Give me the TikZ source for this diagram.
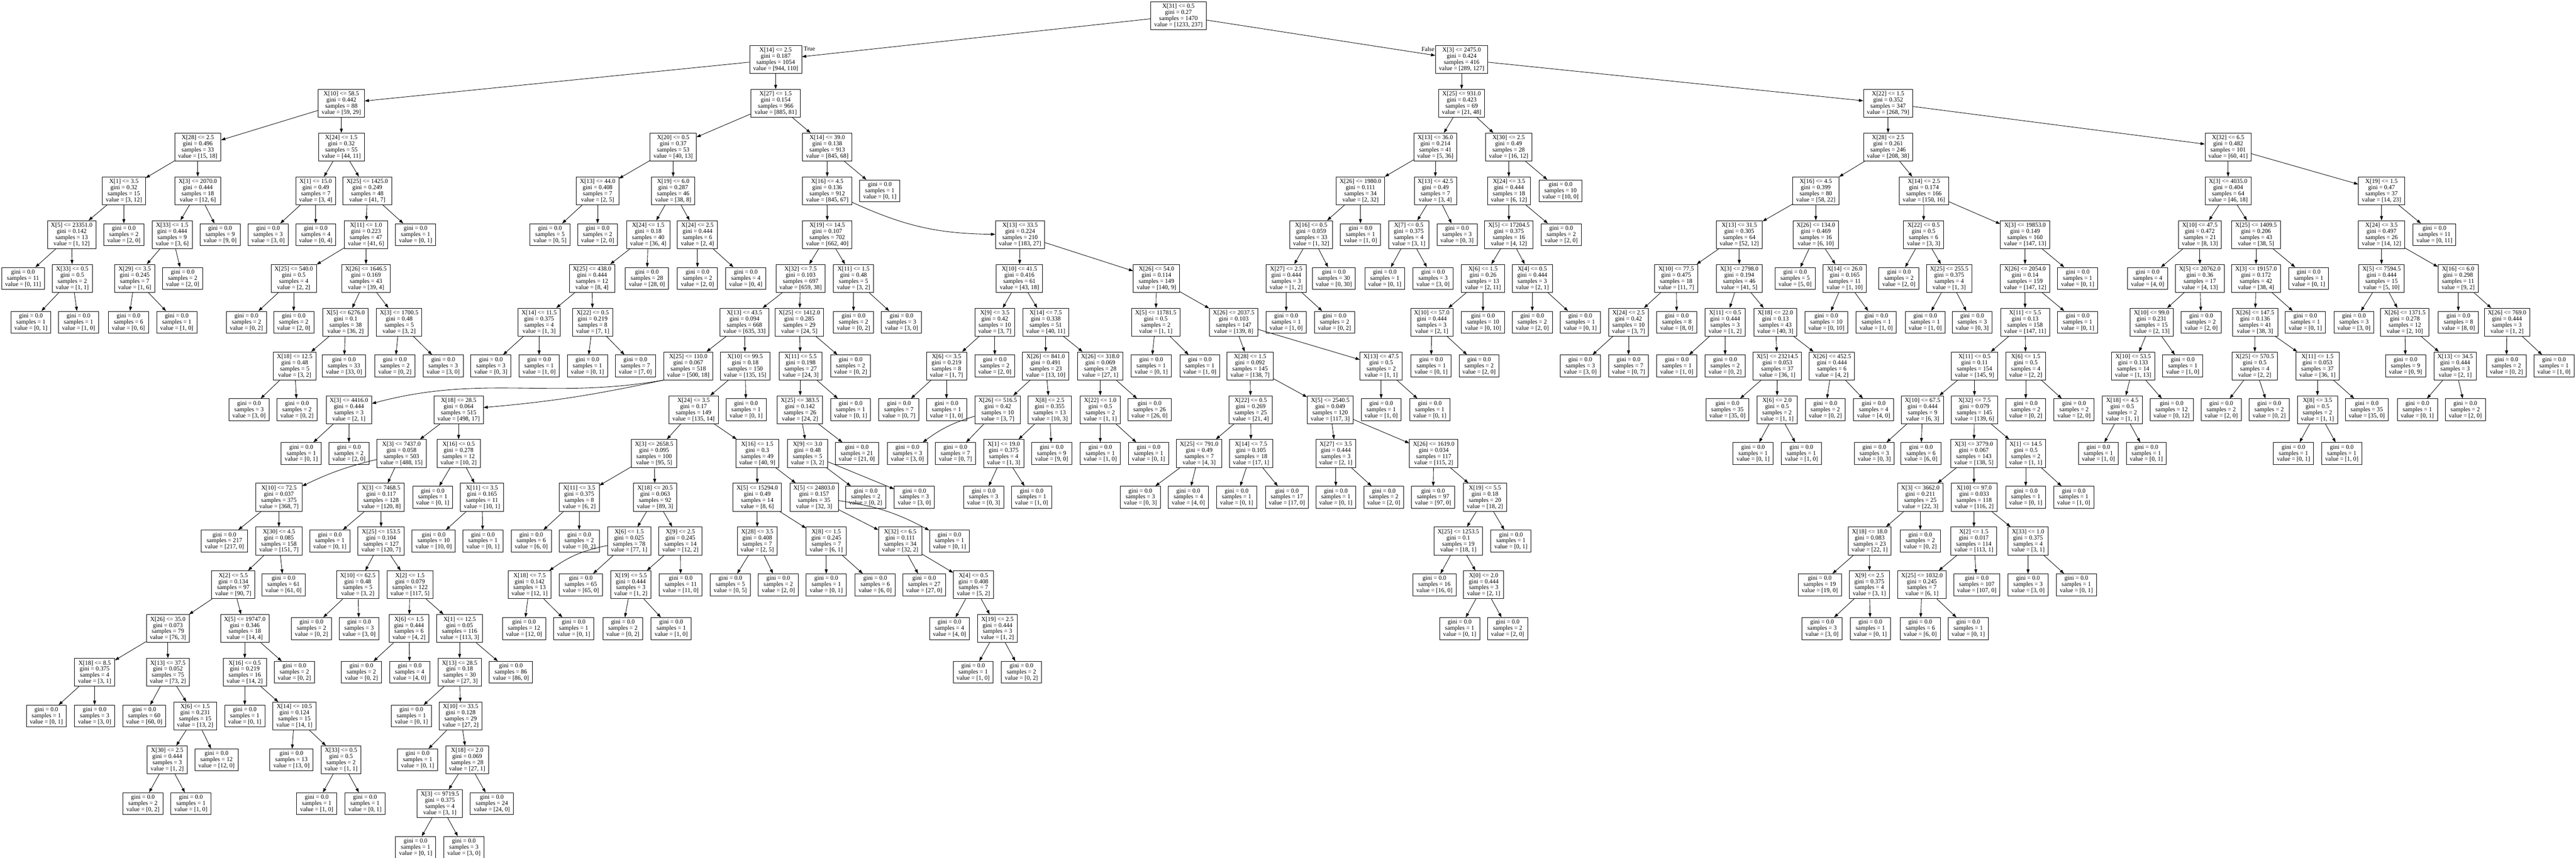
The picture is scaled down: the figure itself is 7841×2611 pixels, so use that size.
\documentclass[tikz,border=0pt]{standalone}
\usepackage{fontspec}
\setmainfont{Liberation Serif}
\usepackage{tikz}
\usetikzlibrary{arrows.meta,positioning}
\newcommand{\splittext}[4]{#1\\gini = #2\\samples = #3\\value = [#4]}
\newcommand{\leaftext}[2]{gini = 0.0\\samples = #1\\value = [#2]}
\begin{document}
\begin{tikzpicture}[on grid,node distance=133.2pt,line width=1.33pt,
  >={Triangle[length=13pt,width=9pt]},
  font=\fontsize{18.67}{18.67}\selectfont,
  split/.style={draw,rectangle,align=center,inner xsep=10.6pt,inner ysep=0pt,minimum height=85pt},
  leaf/.style={draw,rectangle,align=center,inner xsep=10.6pt,inner ysep=0pt,minimum height=66.5pt},
  lbl/.style={inner sep=1pt}]
   \path[use as bounding box,fill=white] (0pt,0pt) rectangle (7841pt,-2611pt);
   \node[split] (n0) at (3587pt,-48pt) {\splittext{X[31] <= 0.5}{0.27}{1470}{1233, 237}};
   \node[split] (n1) [below=of n0, xshift=-1226pt] {\splittext{X[14] <= 2.5}{0.187}{1054}{944, 110}};
   \node[split] (n2) [below=of n0, xshift=862pt] {\splittext{X[3] <= 2475.0}{0.424}{416}{289, 127}};
   \node[lbl,anchor=north west] (tlab) at (n1.north east) [xshift=4pt,yshift=-3pt] {True};
   \node[lbl,anchor=north east] (flab) at (n2.north west) [xshift=-1pt,yshift=-3pt] {False};
   \node[split] (a1) [below=of n1, xshift=-1322pt] {\splittext{X[10] <= 58.5}{0.442}{88}{59, 29}};
   \node[split] (a2) [below=of a1, xshift=-437pt] {\splittext{X[28] <= 2.5}{0.496}{33}{15, 18}};
   \node[split] (a3) [below=of a2, xshift=-225pt] {\splittext{X[1] <= 3.5}{0.32}{15}{3, 12}};
   \node[split] (a4) [below=of a3, xshift=-159pt] {\splittext{X[5] <= 23351.0}{0.142}{13}{1, 12}};
   \node[leaf] (l1) [below=of a4, xshift=-148pt] {\leaftext{11}{0, 11}};
   \node[split] (a5) [below=of a4, xshift=2pt] {\splittext{X[33] <= 0.5}{0.5}{2}{1, 1}};
   \node[leaf] (l2) [below=of a5, xshift=-126pt] {\leaftext{1}{0, 1}};
   \node[leaf] (l3) [below=of a5, xshift=19pt] {\leaftext{1}{1, 0}};
   \node[leaf] (l4) [below=of a3] {\leaftext{2}{2, 0}};
   \node[split] (a6) [below=of a2] {\splittext{X[3] <= 2070.0}{0.444}{18}{12, 6}};
   \node[split] (a7) [below=of a6, xshift=-78pt] {\splittext{X[33] <= 1.5}{0.444}{9}{3, 6}};
   \node[split] (a8) [below=of a7, xshift=-114pt] {\splittext{X[29] <= 3.5}{0.245}{7}{1, 6}};
   \node[leaf] (l5) [below=of a8, xshift=-19pt] {\leaftext{6}{0, 6}};
   \node[leaf] (l6) [below=of a8, xshift=128pt] {\leaftext{1}{1, 0}};
   \node[leaf] (l7) [below=of a7, xshift=32pt] {\leaftext{2}{2, 0}};
   \node[leaf] (l8) [below=of a6, xshift=68pt] {\leaftext{9}{9, 0}};
   \node[split] (a9) [below=of a1] {\splittext{X[24] <= 1.5}{0.32}{55}{44, 11}};
   \node[split] (a10) [below=of a9, xshift=-78pt] {\splittext{X[1] <= 15.0}{0.49}{7}{3, 4}};
   \node[leaf] (l9) [below=of a10, xshift=-145pt] {\leaftext{3}{3, 0}};
   \node[leaf] (l10) [below=of a10] {\leaftext{4}{0, 4}};
   \node[split] (a11) [below=of a9, xshift=79pt] {\splittext{X[25] <= 1425.0}{0.249}{48}{41, 7}};
   \node[split] (a12) [below=of a11, xshift=-4pt] {\splittext{X[11] <= 1.0}{0.223}{47}{41, 6}};
   \node[split] (a13) [below=of a12, xshift=-220pt] {\splittext{X[25] <= 540.0}{0.5}{4}{2, 2}};
   \node[leaf] (l11) [below=of a13, xshift=-144pt] {\leaftext{2}{0, 2}};
   \node[leaf] (l12) [below=of a13] {\leaftext{2}{2, 0}};
   \node[split] (a14) [below=of a12] {\splittext{X[26] <= 1646.5}{0.169}{43}{39, 4}};
   \node[split] (a15) [below=of a14, xshift=-62pt] {\splittext{X[5] <= 6276.0}{0.1}{38}{36, 2}};
   \node[split] (a16) [below=of a15, xshift=-155pt] {\splittext{X[18] <= 12.5}{0.48}{5}{3, 2}};
   \node[leaf] (l13) [below=of a16, xshift=-139pt] {\leaftext{3}{3, 0}};
   \node[leaf] (l14) [below=of a16, xshift=7pt] {\leaftext{2}{0, 2}};
   \node[leaf] (l15) [below=of a15, xshift=-5pt] {\leaftext{33}{33, 0}};
   \node[split] (a17) [below=of a14, xshift=101pt] {\splittext{X[3] <= 1700.5}{0.48}{5}{3, 2}};
   \node[leaf] (l16) [below=of a17, xshift=-13pt] {\leaftext{2}{0, 2}};
   \node[leaf] (l17) [below=of a17, xshift=134pt] {\leaftext{3}{3, 0}};
   \node[leaf] (l18) [below=of a11, xshift=147pt] {\leaftext{1}{0, 1}};
   \node[split] (b1) [below=of n1] {\splittext{X[27] <= 1.5}{0.154}{966}{885, 81}};
   \node[split] (b2) [below=of b1, xshift=-312pt] {\splittext{X[20] <= 0.5}{0.37}{53}{40, 13}};
   \node[split] (b3) [below=of b2, xshift=-230pt] {\splittext{X[13] <= 44.0}{0.408}{7}{2, 5}};
   \node[leaf] (l19) [below=of b3, xshift=-145pt] {\leaftext{5}{0, 5}};
   \node[leaf] (l20) [below=of b3] {\leaftext{2}{2, 0}};
   \node[split] (b4) [below=of b2] {\splittext{X[19] <= 6.0}{0.287}{46}{38, 8}};
   \node[split] (b5) [below=of b4, xshift=-76pt] {\splittext{X[24] <= 1.5}{0.18}{40}{36, 4}};
   \node[split] (b6) [below=of b5, xshift=-171pt] {\splittext{X[25] <= 438.0}{0.444}{12}{8, 4}};
   \node[split] (b7) [below=of b6, xshift=-161pt] {\splittext{X[14] <= 11.5}{0.375}{4}{1, 3}};
   \node[leaf] (l21) [below=of b7, xshift=-147pt] {\leaftext{3}{0, 3}};
   \node[leaf] (l22) [below=of b7] {\leaftext{1}{1, 0}};
   \node[split] (b8) [below=of b6, xshift=2pt] {\splittext{X[22] <= 0.5}{0.219}{8}{7, 1}};
   \node[leaf] (l23) [below=of b8, xshift=-16pt] {\leaftext{1}{0, 1}};
   \node[leaf] (l24) [below=of b8, xshift=130pt] {\leaftext{7}{7, 0}};
   \node[leaf] (l25) [below=of b5, xshift=-4pt] {\leaftext{28}{28, 0}};
   \node[split] (b9) [below=of b4, xshift=74pt] {\splittext{X[24] <= 2.5}{0.444}{6}{2, 4}};
   \node[leaf] (l26) [below=of b9] {\leaftext{2}{2, 0}};
   \node[leaf] (l27) [below=of b9, xshift=147pt] {\leaftext{4}{0, 4}};
   \node[split] (c1) [below=of b1, xshift=157pt] {\splittext{X[14] <= 39.0}{0.138}{913}{845, 68}};
   \node[split] (c2) [below=of c1] {\splittext{X[16] <= 4.5}{0.136}{912}{845, 67}};
   \node[split] (c3) [below=of c2] {\splittext{X[19] <= 14.5}{0.107}{702}{662, 40}};
   \node[split] (c4) [below=of c3, xshift=-81pt] {\splittext{X[32] <= 7.5}{0.103}{697}{659, 38}};
   \node[split] (c5) [below=of c4, xshift=-171pt] {\splittext{X[13] <= 43.5}{0.094}{668}{635, 33}};
   \node[split] (c6) [below=of c5, xshift=-171pt] {\splittext{X[25] <= 110.0}{0.067}{518}{500, 18}};
   \node[split] (c7) [below=of c6, xshift=-1033pt] {\splittext{X[3] <= 4416.0}{0.444}{3}{2, 1}};
   \node[leaf] (l28) [below=of c7, xshift=-145pt] {\leaftext{1}{0, 1}};
   \node[leaf] (l29) [below=of c7] {\leaftext{2}{2, 0}};
   \node[split] (c8) [below=of c6, xshift=-699pt] {\splittext{X[18] <= 28.5}{0.064}{515}{498, 17}};
   \node[split] (c9) [below=of c8, xshift=-174pt] {\splittext{X[3] <= 7437.0}{0.058}{503}{488, 15}};
   \node[split] (c10) [below=of c9, xshift=-373pt] {\splittext{X[10] <= 72.5}{0.037}{375}{368, 7}};
   \node[leaf] (l30) [below=of c10, xshift=-166pt] {\leaftext{217}{217, 0}};
   \node[split] (c11) [below=of c10] {\splittext{X[30] <= 4.5}{0.085}{158}{151, 7}};
   \node[split] (c12) [below=of c11, xshift=-139pt] {\splittext{X[2] <= 5.5}{0.134}{97}{90, 7}};
   \node[split] (c13) [below=of c12, xshift=-199pt] {\splittext{X[26] <= 35.0}{0.073}{79}{76, 3}};
   \node[split] (c14) [below=of c13, xshift=-223pt] {\splittext{X[18] <= 8.5}{0.375}{4}{3, 1}};
   \node[leaf] (l31) [below=of c14, xshift=-147pt] {\leaftext{1}{0, 1}};
   \node[leaf] (l32) [below=of c14] {\leaftext{3}{3, 0}};
   \node[split] (c15) [below=of c13] {\splittext{X[13] <= 37.5}{0.052}{75}{73, 2}};
   \node[leaf] (l33) [below=of c15, xshift=-72pt] {\leaftext{60}{60, 0}};
   \node[split] (c16) [below=of c15, xshift=83pt] {\splittext{X[6] <= 1.5}{0.231}{15}{13, 2}};
   \node[split] (c17) [below=of c16, xshift=-85pt] {\splittext{X[30] <= 2.5}{0.444}{3}{1, 2}};
   \node[leaf] (l34) [below=of c17, xshift=-74pt] {\leaftext{2}{0, 2}};
   \node[leaf] (l35) [below=of c17, xshift=72pt] {\leaftext{1}{1, 0}};
   \node[leaf] (l36) [below=of c16, xshift=65pt] {\leaftext{12}{12, 0}};
   \node[split] (c18) [below=of c12, xshift=35pt] {\splittext{X[5] <= 19747.0}{0.346}{18}{14, 4}};
   \node[split] (c19) [below=of c18] {\splittext{X[16] <= 0.5}{0.219}{16}{14, 2}};
   \node[leaf] (l37) [below=of c19] {\leaftext{1}{0, 1}};
   \node[split] (c20) [below=of c19, xshift=151pt] {\splittext{X[14] <= 10.5}{0.124}{15}{14, 1}};
   \node[leaf] (l38) [below=of c20, xshift=-9pt] {\leaftext{13}{13, 0}};
   \node[split] (c21) [below=of c20, xshift=142pt] {\splittext{X[33] <= 0.5}{0.5}{2}{1, 1}};
   \node[leaf] (l39) [below=of c21, xshift=-74pt] {\leaftext{1}{1, 0}};
   \node[leaf] (l40) [below=of c21, xshift=73pt] {\leaftext{1}{0, 1}};
   \node[leaf] (l41) [below=of c18, xshift=151pt] {\leaftext{2}{0, 2}};
   \node[leaf] (l42) [below=of c11, xshift=14pt] {\leaftext{61}{61, 0}};
   \node[split] (c22) [below=of c9, xshift=-62pt] {\splittext{X[3] <= 7468.5}{0.117}{128}{120, 8}};
   \node[leaf] (l43) [below=of c22, xshift=-156pt] {\leaftext{1}{0, 1}};
   \node[split] (c23) [below=of c22] {\splittext{X[25] <= 153.5}{0.104}{127}{120, 7}};
   \node[split] (c24) [below=of c23, xshift=-71pt] {\splittext{X[10] <= 62.5}{0.48}{5}{3, 2}};
   \node[leaf] (l44) [below=of c24, xshift=-141pt] {\leaftext{2}{0, 2}};
   \node[leaf] (l45) [below=of c24, xshift=4pt] {\leaftext{3}{3, 0}};
   \node[split] (c25) [below=of c23, xshift=88pt] {\splittext{X[2] <= 1.5}{0.079}{122}{117, 5}};
   \node[split] (c26) [below=of c25, xshift=-3pt] {\splittext{X[6] <= 1.5}{0.444}{6}{4, 2}};
   \node[leaf] (l46) [below=of c26, xshift=-145pt] {\leaftext{2}{0, 2}};
   \node[leaf] (l47) [below=of c26, xshift=2pt] {\leaftext{4}{4, 0}};
   \node[split] (c27) [below=of c25, xshift=151pt] {\splittext{X[1] <= 12.5}{0.05}{116}{113, 3}};
   \node[split] (c28) [below=of c27] {\splittext{X[13] <= 28.5}{0.18}{30}{27, 3}};
   \node[leaf] (l48) [below=of c28, xshift=-147pt] {\leaftext{1}{0, 1}};
   \node[split] (c29) [below=of c28, xshift=3pt] {\splittext{X[10] <= 33.5}{0.128}{29}{27, 2}};
   \node[leaf] (l49) [below=of c29, xshift=-131pt] {\leaftext{1}{0, 1}};
   \node[split] (c30) [below=of c29, xshift=20pt] {\splittext{X[18] <= 2.0}{0.069}{28}{27, 1}};
   \node[split] (c31) [below=of c30, xshift=-83pt] {\splittext{X[3] <= 9719.5}{0.375}{4}{3, 1}};
   \node[leaf] (l50) [below=of c31, xshift=-74pt] {\leaftext{1}{0, 1}};
   \node[leaf] (l51) [below=of c31, xshift=73pt] {\leaftext{3}{3, 0}};
   \node[leaf] (l52) [below=of c30, xshift=75pt] {\leaftext{24}{24, 0}};
   \node[leaf] (l53) [below=of c27, xshift=156pt] {\leaftext{86}{86, 0}};
   \node[split] (c32) [below=of c8] {\splittext{X[16] <= 0.5}{0.278}{12}{10, 2}};
   \node[leaf] (l54) [below=of c32, xshift=-79pt] {\leaftext{1}{0, 1}};
   \node[split] (c33) [below=of c32, xshift=71pt] {\splittext{X[11] <= 3.5}{0.165}{11}{10, 1}};
   \node[leaf] (l55) [below=of c33, xshift=-147pt] {\leaftext{10}{10, 0}};
   \node[leaf] (l56) [below=of c33, xshift=3pt] {\leaftext{1}{0, 1}};
   \node[split] (c34) [below=of c5, xshift=2pt] {\splittext{X[10] <= 99.5}{0.18}{150}{135, 15}};
   \node[split] (c35) [below=of c34, xshift=-157pt] {\splittext{X[24] <= 3.5}{0.17}{149}{135, 14}};
   \node[split] (c36) [below=of c35, xshift=-120pt] {\splittext{X[3] <= 2658.5}{0.095}{100}{95, 5}};
   \node[split] (c37) [below=of c36, xshift=-228pt] {\splittext{X[11] <= 3.5}{0.375}{8}{6, 2}};
   \node[leaf] (l57) [below=of c37, xshift=-146pt] {\leaftext{6}{6, 0}};
   \node[leaf] (l58) [below=of c37] {\leaftext{2}{0, 2}};
   \node[split] (c38) [below=of c36, xshift=3pt] {\splittext{X[18] <= 20.5}{0.063}{92}{89, 3}};
   \node[split] (c39) [below=of c38, xshift=-79pt] {\splittext{X[6] <= 1.5}{0.025}{78}{77, 1}};
   \node[split] (c40) [below=of c39, xshift=-303pt] {\splittext{X[18] <= 7.5}{0.142}{13}{12, 1}};
   \node[leaf] (l59) [below=of c40, xshift=-17pt] {\leaftext{12}{12, 0}};
   \node[leaf] (l60) [below=of c40, xshift=134pt] {\leaftext{1}{0, 1}};
   \node[leaf] (l61) [below=of c39, xshift=-147pt] {\leaftext{65}{65, 0}};
   \node[split] (c41) [below=of c38, xshift=77pt] {\splittext{X[9] <= 2.5}{0.245}{14}{12, 2}};
   \node[split] (c42) [below=of c41, xshift=-151pt] {\splittext{X[19] <= 5.5}{0.444}{3}{1, 2}};
   \node[leaf] (l62) [below=of c42, xshift=-24pt] {\leaftext{2}{0, 2}};
   \node[leaf] (l63) [below=of c42, xshift=123pt] {\leaftext{1}{1, 0}};
   \node[leaf] (l64) [below=of c41, xshift=1pt] {\leaftext{11}{11, 0}};
   \node[split] (c43) [below=of c35, xshift=194pt] {\splittext{X[16] <= 1.5}{0.3}{49}{40, 9}};
   \node[split] (c44) [below=of c43] {\splittext{X[5] <= 15294.0}{0.49}{14}{8, 6}};
   \node[split] (c45) [below=of c44] {\splittext{X[28] <= 3.5}{0.408}{7}{2, 5}};
   \node[leaf] (l65) [below=of c45, xshift=-82pt] {\leaftext{5}{0, 5}};
   \node[leaf] (l66) [below=of c45, xshift=64pt] {\leaftext{2}{2, 0}};
   \node[split] (c46) [below=of c44, xshift=210pt] {\splittext{X[8] <= 1.5}{0.245}{7}{6, 1}};
   \node[leaf] (l67) [below=of c46] {\leaftext{1}{0, 1}};
   \node[leaf] (l68) [below=of c46, xshift=149pt] {\leaftext{6}{6, 0}};
   \node[split] (c47) [below=of c43, xshift=173pt] {\splittext{X[5] <= 24803.0}{0.157}{35}{32, 3}};
   \node[split] (c48) [below=of c47, xshift=262pt] {\splittext{X[32] <= 6.5}{0.111}{34}{32, 2}};
   \node[leaf] (l69) [below=of c48, xshift=73pt] {\leaftext{27}{27, 0}};
   \node[split] (c49) [below=of c48, xshift=223pt] {\splittext{X[4] <= 0.5}{0.408}{7}{5, 2}};
   \node[leaf] (l70) [below=of c49, xshift=-73pt] {\leaftext{4}{4, 0}};
   \node[split] (c50) [below=of c49, xshift=73pt] {\splittext{X[19] <= 2.5}{0.444}{3}{1, 2}};
   \node[leaf] (l71) [below=of c50, xshift=-74pt] {\leaftext{1}{1, 0}};
   \node[leaf] (l72) [below=of c50, xshift=73pt] {\leaftext{2}{0, 2}};
   \node[leaf] (l73) [below=of c47, xshift=412pt] {\leaftext{1}{0, 1}};
   \node[leaf] (l74) [below=of c34, xshift=3pt] {\leaftext{1}{0, 1}};
   \node[split] (c51) [below=of c4, xshift=-4pt] {\splittext{X[25] <= 1412.0}{0.285}{29}{24, 5}};
   \node[split] (c52) [below=of c51, xshift=4pt] {\splittext{X[11] <= 5.5}{0.198}{27}{24, 3}};
   \node[split] (c53) [below=of c52, xshift=-2pt] {\splittext{X[25] <= 383.5}{0.142}{26}{24, 2}};
   \node[split] (c54) [below=of c53, xshift=23pt] {\splittext{X[9] <= 3.0}{0.48}{5}{3, 2}};
   \node[leaf] (l75) [below=of c54, xshift=177pt] {\leaftext{2}{0, 2}};
   \node[leaf] (l76) [below=of c54, xshift=325pt] {\leaftext{3}{3, 0}};
   \node[leaf] (l77) [below=of c53, xshift=173pt] {\leaftext{21}{21, 0}};
   \node[leaf] (l78) [below=of c52, xshift=152pt] {\leaftext{1}{0, 1}};
   \node[leaf] (l79) [below=of c51, xshift=156pt] {\leaftext{2}{0, 2}};
   \node[split] (c55) [below=of c3, xshift=80pt] {\splittext{X[11] <= 1.5}{0.48}{5}{3, 2}};
   \node[leaf] (l80) [below=of c55] {\leaftext{2}{0, 2}};
   \node[leaf] (l81) [below=of c55, xshift=146pt] {\leaftext{3}{3, 0}};
   \node[split] (d1) [below=of c2, xshift=587pt] {\splittext{X[13] <= 33.5}{0.224}{210}{183, 27}};
   \node[split] (d2) [below=of d1, xshift=-2pt] {\splittext{X[10] <= 41.5}{0.416}{61}{43, 18}};
   \node[split] (d3) [below=of d2, xshift=-75pt] {\splittext{X[9] <= 3.5}{0.42}{10}{3, 7}};
   \node[split] (d4) [below=of d3, xshift=-147pt] {\splittext{X[6] <= 3.5}{0.219}{8}{1, 7}};
   \node[leaf] (l82) [below=of d4, xshift=-145pt] {\leaftext{7}{0, 7}};
   \node[leaf] (l83) [below=of d4] {\leaftext{1}{1, 0}};
   \node[leaf] (l84) [below=of d3] {\leaftext{2}{2, 0}};
   \node[split] (d5) [below=of d2, xshift=80pt] {\splittext{X[14] <= 7.5}{0.338}{51}{40, 11}};
   \node[split] (d6) [below=of d5] {\splittext{X[26] <= 841.0}{0.491}{23}{13, 10}};
   \node[split] (d7) [below=of d6, xshift=-146pt] {\splittext{X[26] <= 516.5}{0.42}{10}{3, 7}};
   \node[leaf] (l85) [below=of d7, xshift=-275pt] {\leaftext{3}{3, 0}};
   \node[leaf] (l86) [below=of d7, xshift=-129pt] {\leaftext{7}{0, 7}};
   \node[split] (d8) [below=of d6, xshift=12pt] {\splittext{X[8] <= 2.5}{0.355}{13}{10, 3}};
   \node[split] (d9) [below=of d8, xshift=-140pt] {\splittext{X[1] <= 19.0}{0.375}{4}{1, 3}};
   \node[leaf] (l87) [below=of d9, xshift=-61pt] {\leaftext{3}{0, 3}};
   \node[leaf] (l88) [below=of d9, xshift=85pt] {\leaftext{1}{1, 0}};
   \node[leaf] (l89) [below=of d8, xshift=6pt] {\leaftext{9}{9, 0}};
   \node[split] (d10) [below=of d5, xshift=166pt] {\splittext{X[26] <= 318.0}{0.069}{28}{27, 1}};
   \node[split] (d11) [below=of d10] {\splittext{X[22] <= 1.0}{0.5}{2}{1, 1}};
   \node[leaf] (l90) [below=of d11] {\leaftext{1}{1, 0}};
   \node[leaf] (l91) [below=of d11, xshift=147pt] {\leaftext{1}{0, 1}};
   \node[leaf] (l92) [below=of d10, xshift=150pt] {\leaftext{26}{26, 0}};
   \node[split] (d12) [below=of d1, xshift=415pt] {\splittext{X[26] <= 54.0}{0.114}{149}{140, 9}};
   \node[split] (d13) [below=of d12, xshift=-2pt] {\splittext{X[5] <= 11781.5}{0.5}{2}{1, 1}};
   \node[leaf] (l93) [below=of d13, xshift=-14pt] {\leaftext{1}{0, 1}};
   \node[leaf] (l94) [below=of d13, xshift=134pt] {\leaftext{1}{1, 0}};
   \node[split] (d14) [below=of d12, xshift=235pt] {\splittext{X[26] <= 2037.5}{0.103}{147}{139, 8}};
   \node[split] (d15) [below=of d14, xshift=50pt] {\splittext{X[28] <= 1.5}{0.092}{145}{138, 7}};
   \node[split] (d16) [below=of d15, xshift=2pt] {\splittext{X[22] <= 0.5}{0.269}{25}{21, 4}};
   \node[split] (d17) [below=of d16, xshift=-157pt] {\splittext{X[25] <= 791.0}{0.49}{7}{4, 3}};
   \node[leaf] (l95) [below=of d17, xshift=-179pt] {\leaftext{3}{0, 3}};
   \node[leaf] (l96) [below=of d17, xshift=-33pt] {\leaftext{4}{4, 0}};
   \node[split] (d18) [below=of d16, xshift=1pt] {\splittext{X[14] <= 7.5}{0.105}{18}{17, 1}};
   \node[leaf] (l97) [below=of d18, xshift=-44pt] {\leaftext{1}{0, 1}};
   \node[leaf] (l98) [below=of d18, xshift=109pt] {\leaftext{17}{17, 0}};
   \node[split] (d19) [below=of d15, xshift=244pt] {\splittext{X[5] <= 2540.5}{0.049}{120}{117, 3}};
   \node[split] (d20) [below=of d19, xshift=17pt] {\splittext{X[27] <= 3.5}{0.444}{3}{2, 1}};
   \node[leaf] (l99) [below=of d20] {\leaftext{1}{0, 1}};
   \node[leaf] (l100) [below=of d20, xshift=146pt] {\leaftext{2}{2, 0}};
   \node[split] (d21) [below=of d19, xshift=315pt] {\splittext{X[26] <= 1619.0}{0.034}{117}{115, 2}};
   \node[leaf] (l101) [below=of d21, xshift=-2pt] {\leaftext{97}{97, 0}};
   \node[split] (d22) [below=of d21, xshift=156pt] {\splittext{X[19] <= 5.5}{0.18}{20}{18, 2}};
   \node[split] (d23) [below=of d22, xshift=-81pt] {\splittext{X[25] <= 1253.5}{0.1}{19}{18, 1}};
   \node[leaf] (l102) [below=of d23, xshift=-73pt] {\leaftext{16}{16, 0}};
   \node[split] (d24) [below=of d23, xshift=77pt] {\splittext{X[0] <= 2.0}{0.444}{3}{2, 1}};
   \node[leaf] (l103) [below=of d24, xshift=-73pt] {\leaftext{1}{0, 1}};
   \node[leaf] (l104) [below=of d24, xshift=73pt] {\leaftext{2}{2, 0}};
   \node[leaf] (l105) [below=of d22, xshift=79pt] {\leaftext{1}{0, 1}};
   \node[split] (d25) [below=of d14, xshift=449pt] {\splittext{X[13] <= 47.5}{0.5}{2}{1, 1}};
   \node[leaf] (l106) [below=of d25] {\leaftext{1}{1, 0}};
   \node[leaf] (l107) [below=of d25, xshift=148pt] {\leaftext{1}{0, 1}};
   \node[leaf] (l108) [below=of c1, xshift=160pt] {\leaftext{1}{0, 1}};
   \node[split] (e1) [below=of n2] {\splittext{X[25] <= 931.0}{0.423}{69}{21, 48}};
   \node[split] (e2) [below=of e1, xshift=-80pt] {\splittext{X[13] <= 36.0}{0.214}{41}{5, 36}};
   \node[split] (e3) [below=of e2, xshift=-228pt] {\splittext{X[26] <= 1980.0}{0.111}{34}{2, 32}};
   \node[split] (e4) [below=of e3, xshift=-150pt] {\splittext{X[16] <= 0.5}{0.059}{33}{1, 32}};
   \node[split] (e5) [below=of e4, xshift=-76pt] {\splittext{X[27] <= 2.5}{0.444}{3}{1, 2}};
   \node[leaf] (l109) [below=of e5] {\leaftext{1}{1, 0}};
   \node[leaf] (l110) [below=of e5, xshift=147pt] {\leaftext{2}{0, 2}};
   \node[leaf] (l111) [below=of e4, xshift=69pt] {\leaftext{30}{0, 30}};
   \node[leaf] (l112) [below=of e3] {\leaftext{1}{1, 0}};
   \node[split] (e6) [below=of e2] {\splittext{X[13] <= 42.5}{0.49}{7}{3, 4}};
   \node[split] (e7) [below=of e6, xshift=-81pt] {\splittext{X[7] <= 0.5}{0.375}{4}{3, 1}};
   \node[leaf] (l113) [below=of e7, xshift=-73pt] {\leaftext{1}{0, 1}};
   \node[leaf] (l114) [below=of e7, xshift=74pt] {\leaftext{3}{3, 0}};
   \node[leaf] (l115) [below=of e6, xshift=66pt] {\leaftext{3}{0, 3}};
   \node[split] (e8) [below=of e1, xshift=143pt] {\splittext{X[30] <= 2.5}{0.49}{28}{16, 12}};
   \node[split] (e9) [below=of e8, xshift=1pt] {\splittext{X[24] <= 3.5}{0.444}{18}{6, 12}};
   \node[split] (e10) [below=of e9] {\splittext{X[5] <= 17204.5}{0.375}{16}{4, 12}};
   \node[split] (e11) [below=of e10, xshift=-79pt] {\splittext{X[6] <= 1.5}{0.26}{13}{2, 11}};
   \node[split] (e12) [below=of e11, xshift=-156pt] {\splittext{X[10] <= 57.0}{0.444}{3}{2, 1}};
   \node[leaf] (l116) [below=of e12, xshift=-2pt] {\leaftext{1}{0, 1}};
   \node[leaf] (l117) [below=of e12, xshift=144pt] {\leaftext{2}{2, 0}};
   \node[leaf] (l118) [below=of e11] {\leaftext{10}{0, 10}};
   \node[split] (e13) [below=of e10, xshift=71pt] {\splittext{X[4] <= 0.5}{0.444}{3}{2, 1}};
   \node[leaf] (l119) [below=of e13] {\leaftext{2}{2, 0}};
   \node[leaf] (l120) [below=of e13, xshift=146pt] {\leaftext{1}{0, 1}};
   \node[leaf] (l121) [below=of e9, xshift=159pt] {\leaftext{2}{2, 0}};
   \node[leaf] (l122) [below=of e8, xshift=158pt] {\leaftext{10}{10, 0}};
   \node[split] (f1) [below=of n2, xshift=1298pt] {\splittext{X[22] <= 1.5}{0.352}{347}{268, 79}};
   \node[split] (f2) [below=of f1] {\splittext{X[28] <= 2.5}{0.261}{246}{208, 38}};
   \node[split] (f3) [below=of f2, xshift=-220pt] {\splittext{X[16] <= 4.5}{0.399}{80}{58, 22}};
   \node[split] (f4) [below=of f3, xshift=-233pt] {\splittext{X[13] <= 31.5}{0.305}{64}{52, 12}};
   \node[split] (f5) [below=of f4, xshift=-192pt] {\splittext{X[10] <= 77.5}{0.475}{18}{11, 7}};
   \node[split] (f6) [below=of f5, xshift=-145pt] {\splittext{X[24] <= 2.5}{0.42}{10}{3, 7}};
   \node[leaf] (l123) [below=of f6, xshift=-147pt] {\leaftext{3}{3, 0}};
   \node[leaf] (l124) [below=of f6] {\leaftext{7}{0, 7}};
   \node[leaf] (l125) [below=of f5, xshift=2pt] {\leaftext{8}{8, 0}};
   \node[split] (f7) [below=of f4] {\splittext{X[3] <= 2798.0}{0.194}{46}{41, 5}};
   \node[split] (f8) [below=of f7, xshift=-43pt] {\splittext{X[11] <= 0.5}{0.444}{3}{1, 2}};
   \node[leaf] (l126) [below=of f8, xshift=-147pt] {\leaftext{1}{1, 0}};
   \node[leaf] (l127) [below=of f8] {\leaftext{2}{0, 2}};
   \node[split] (f9) [below=of f7, xshift=110pt] {\splittext{X[18] <= 22.0}{0.13}{43}{40, 3}};
   \node[split] (f10) [below=of f9, xshift=6pt] {\splittext{X[5] <= 23214.5}{0.053}{37}{36, 1}};
   \node[leaf] (l128) [below=of f10, xshift=-152pt] {\leaftext{35}{35, 0}};
   \node[split] (f11) [below=of f10, xshift=-1pt] {\splittext{X[6] <= 2.0}{0.5}{2}{1, 1}};
   \node[leaf] (l129) [below=of f11, xshift=-73pt] {\leaftext{1}{0, 1}};
   \node[leaf] (l130) [below=of f11, xshift=74pt] {\leaftext{1}{1, 0}};
   \node[split] (f12) [below=of f9, xshift=172pt] {\splittext{X[26] <= 452.5}{0.444}{6}{4, 2}};
   \node[leaf] (l131) [below=of f12, xshift=-20pt] {\leaftext{2}{0, 2}};
   \node[leaf] (l132) [below=of f12, xshift=127pt] {\leaftext{4}{4, 0}};
   \node[split] (f13) [below=of f3] {\splittext{X[26] <= 134.0}{0.469}{16}{6, 10}};
   \node[leaf] (l133) [below=of f13, xshift=-63pt] {\leaftext{5}{5, 0}};
   \node[split] (f14) [below=of f13, xshift=88pt] {\splittext{X[14] <= 26.0}{0.165}{11}{1, 10}};
   \node[leaf] (l134) [below=of f14, xshift=-56pt] {\leaftext{10}{0, 10}};
   \node[leaf] (l135) [below=of f14, xshift=96pt] {\leaftext{1}{1, 0}};
   \node[split] (f15) [below=of f2, xshift=109pt] {\splittext{X[14] <= 2.5}{0.174}{166}{150, 16}};
   \node[split] (f16) [below=of f15, xshift=-1pt] {\splittext{X[22] <= 0.5}{0.5}{6}{3, 3}};
   \node[leaf] (l136) [below=of f16, xshift=-75pt] {\leaftext{2}{2, 0}};
   \node[split] (f17) [below=of f16, xshift=78pt] {\splittext{X[25] <= 255.5}{0.375}{4}{1, 3}};
   \node[leaf] (l137) [below=of f17, xshift=-73pt] {\leaftext{1}{1, 0}};
   \node[leaf] (l138) [below=of f17, xshift=70pt] {\leaftext{3}{0, 3}};
   \node[split] (f18) [below=of f15, xshift=308pt] {\splittext{X[3] <= 19853.0}{0.149}{160}{147, 13}};
   \node[split] (f19) [below=of f18] {\splittext{X[26] <= 2054.0}{0.14}{159}{147, 12}};
   \node[split] (f20) [below=of f19] {\splittext{X[11] <= 5.5}{0.13}{158}{147, 11}};
   \node[split] (f21) [below=of f20, xshift=-154pt] {\splittext{X[11] <= 0.5}{0.11}{154}{145, 9}};
   \node[split] (f22) [below=of f21, xshift=-158pt] {\splittext{X[10] <= 67.5}{0.444}{9}{6, 3}};
   \node[leaf] (l139) [below=of f22, xshift=-147pt] {\leaftext{3}{0, 3}};
   \node[leaf] (l140) [below=of f22, xshift=-5pt] {\leaftext{6}{6, 0}};
   \node[split] (f23) [below=of f21] {\splittext{X[32] <= 7.5}{0.079}{145}{139, 6}};
   \node[split] (f24) [below=of f23, xshift=-2pt] {\splittext{X[3] <= 3779.0}{0.067}{143}{138, 5}};
   \node[split] (f25) [below=of f24, xshift=-163pt] {\splittext{X[3] <= 3662.0}{0.211}{25}{22, 3}};
   \node[split] (f26) [below=of f25, xshift=-154pt] {\splittext{X[18] <= 18.0}{0.083}{23}{22, 1}};
   \node[leaf] (l141) [below=of f26, xshift=-152pt] {\leaftext{19}{19, 0}};
   \node[split] (f27) [below=of f26, xshift=-1pt] {\splittext{X[9] <= 2.5}{0.375}{4}{3, 1}};
   \node[leaf] (l142) [below=of f27, xshift=-144pt] {\leaftext{3}{3, 0}};
   \node[leaf] (l143) [below=of f27, xshift=3pt] {\leaftext{1}{0, 1}};
   \node[leaf] (l144) [below=of f25] {\leaftext{2}{0, 2}};
   \node[split] (f28) [below=of f24, xshift=1pt] {\splittext{X[10] <= 97.0}{0.033}{118}{116, 2}};
   \node[split] (f29) [below=of f28, xshift=-1pt] {\splittext{X[2] <= 1.5}{0.017}{114}{113, 1}};
   \node[split] (f30) [below=of f29, xshift=-158pt] {\splittext{X[25] <= 1032.0}{0.245}{7}{6, 1}};
   \node[leaf] (l145) [below=of f30, xshift=-5pt] {\leaftext{6}{6, 0}};
   \node[leaf] (l146) [below=of f30, xshift=141pt] {\leaftext{1}{0, 1}};
   \node[leaf] (l147) [below=of f29, xshift=9pt] {\leaftext{107}{107, 0}};
   \node[split] (f31) [below=of f28, xshift=164pt] {\splittext{X[33] <= 1.0}{0.375}{4}{3, 1}};
   \node[leaf] (l148) [below=of f31] {\leaftext{3}{3, 0}};
   \node[leaf] (l149) [below=of f31, xshift=147pt] {\leaftext{1}{0, 1}};
   \node[split] (f32) [below=of f23, xshift=156pt] {\splittext{X[1] <= 14.5}{0.5}{2}{1, 1}};
   \node[leaf] (l150) [below=of f32] {\leaftext{1}{0, 1}};
   \node[leaf] (l151) [below=of f32, xshift=146pt] {\leaftext{1}{1, 0}};
   \node[split] (f33) [below=of f20, xshift=2pt] {\splittext{X[6] <= 1.5}{0.5}{4}{2, 2}};
   \node[leaf] (l152) [below=of f33] {\leaftext{2}{0, 2}};
   \node[leaf] (l153) [below=of f33, xshift=147pt] {\leaftext{2}{2, 0}};
   \node[leaf] (l154) [below=of f19, xshift=160pt] {\leaftext{1}{0, 1}};
   \node[leaf] (l155) [below=of f18, xshift=160pt] {\leaftext{1}{0, 1}};
   \node[split] (g1) [below=of f1, xshift=1035pt] {\splittext{X[32] <= 6.5}{0.482}{101}{60, 41}};
   \node[split] (g2) [below=of g1] {\splittext{X[3] <= 4035.0}{0.404}{64}{46, 18}};
   \node[split] (g3) [below=of g2, xshift=-86pt] {\splittext{X[10] <= 47.5}{0.472}{21}{8, 13}};
   \node[leaf] (l156) [below=of g3, xshift=-159pt] {\leaftext{4}{4, 0}};
   \node[split] (g4) [below=of g3] {\splittext{X[5] <= 20762.0}{0.36}{17}{4, 13}};
   \node[split] (g5) [below=of g4, xshift=-147pt] {\splittext{X[10] <= 99.0}{0.231}{15}{2, 13}};
   \node[split] (g6) [below=of g5, xshift=-56pt] {\splittext{X[10] <= 53.5}{0.133}{14}{1, 13}};
   \node[split] (g7) [below=of g6, xshift=-33pt] {\splittext{X[18] <= 4.5}{0.5}{2}{1, 1}};
   \node[leaf] (l157) [below=of g7, xshift=-73pt] {\leaftext{1}{1, 0}};
   \node[leaf] (l158) [below=of g7, xshift=73pt] {\leaftext{1}{0, 1}};
   \node[leaf] (l159) [below=of g6, xshift=117pt] {\leaftext{12}{0, 12}};
   \node[leaf] (l160) [below=of g5, xshift=95pt] {\leaftext{1}{1, 0}};
   \node[leaf] (l161) [below=of g4, xshift=4pt] {\leaftext{2}{2, 0}};
   \node[split] (g8) [below=of g2, xshift=85pt] {\splittext{X[25] <= 1409.5}{0.206}{43}{38, 5}};
   \node[split] (g9) [below=of g8] {\splittext{X[3] <= 19157.0}{0.172}{42}{38, 4}};
   \node[split] (g10) [below=of g9, xshift=-3pt] {\splittext{X[26] <= 147.5}{0.136}{41}{38, 3}};
   \node[split] (g11) [below=of g10, xshift=-1pt] {\splittext{X[25] <= 570.5}{0.5}{4}{2, 2}};
   \node[leaf] (l162) [below=of g11, xshift=-102pt] {\leaftext{2}{2, 0}};
   \node[leaf] (l163) [below=of g11, xshift=44pt] {\leaftext{2}{0, 2}};
   \node[split] (g12) [below=of g10, xshift=190pt] {\splittext{X[11] <= 1.5}{0.053}{37}{36, 1}};
   \node[split] (g13) [below=of g12] {\splittext{X[8] <= 3.5}{0.5}{2}{1, 1}};
   \node[leaf] (l164) [below=of g13, xshift=-73pt] {\leaftext{1}{0, 1}};
   \node[leaf] (l165) [below=of g13, xshift=74pt] {\leaftext{1}{1, 0}};
   \node[leaf] (l166) [below=of g12, xshift=150pt] {\leaftext{35}{35, 0}};
   \node[leaf] (l167) [below=of g9, xshift=150pt] {\leaftext{1}{0, 1}};
   \node[leaf] (l168) [below=of g8, xshift=160pt] {\leaftext{1}{0, 1}};
   \node[split] (g14) [below=of g1, xshift=467pt] {\splittext{X[19] <= 1.5}{0.47}{37}{14, 23}};
   \node[split] (g15) [below=of g14] {\splittext{X[24] <= 3.5}{0.497}{26}{14, 12}};
   \node[split] (g16) [below=of g15] {\splittext{X[5] <= 7594.5}{0.444}{15}{5, 10}};
   \node[leaf] (l169) [below=of g16, xshift=-84pt] {\leaftext{3}{3, 0}};
   \node[split] (g17) [below=of g16, xshift=71pt] {\splittext{X[26] <= 1371.5}{0.278}{12}{2, 10}};
   \node[leaf] (l170) [below=of g17, xshift=2pt] {\leaftext{9}{0, 9}};
   \node[split] (g18) [below=of g17, xshift=153pt] {\splittext{X[13] <= 34.5}{0.444}{3}{2, 1}};
   \node[leaf] (l171) [below=of g18, xshift=-115pt] {\leaftext{1}{0, 1}};
   \node[leaf] (l172) [below=of g18, xshift=31pt] {\leaftext{2}{2, 0}};
   \node[split] (g19) [below=of g15, xshift=233pt] {\splittext{X[16] <= 6.0}{0.298}{11}{9, 2}};
   \node[leaf] (l173) [below=of g19, xshift=1pt] {\leaftext{8}{8, 0}};
   \node[split] (g20) [below=of g19, xshift=149pt] {\splittext{X[26] <= 769.0}{0.444}{3}{1, 2}};
   \node[leaf] (l174) [below=of g20, xshift=-2pt] {\leaftext{2}{0, 2}};
   \node[leaf] (l175) [below=of g20, xshift=143pt] {\leaftext{1}{1, 0}};
   \node[leaf] (l176) [below=of g14, xshift=161pt] {\leaftext{11}{0, 11}};
    \path[->]
    (n0) edge (n1) edge (n2)
    (n1) edge (a1) edge (b1)
    (n2) edge (e1) edge (f1)
    (a1) edge (a2) edge (a9)
    (a2) edge (a3) edge (a6)
    (a3) edge (a4) edge (l4)
    (a4) edge (l1) edge (a5)
    (a5) edge (l2) edge (l3)
    (a6) edge (a7) edge (l8)
    (a7) edge (a8) edge (l7)
    (a8) edge (l5) edge (l6)
    (a9) edge (a10) edge (a11)
    (a10) edge (l9) edge (l10)
    (a11) edge (a12) edge (l18)
    (a12) edge (a13) edge (a14)
    (a13) edge (l11) edge (l12)
    (a14) edge (a15) edge (a17)
    (a15) edge (a16) edge (l15)
    (a16) edge (l13) edge (l14)
    (a17) edge (l16) edge (l17)
    (b1) edge (b2) edge (c1)
    (b2) edge (b3) edge (b4)
    (b3) edge (l19) edge (l20)
    (b4) edge (b5) edge (b9)
    (b5) edge (b6) edge (l25)
    (b6) edge (b7) edge (b8)
    (b7) edge (l21) edge (l22)
    (b8) edge (l23) edge (l24)
    (b9) edge (l26) edge (l27)
    (c1) edge (c2) edge (l108)
    (c2) edge (c3) edge [bend right = 12] (d1)
    (c3) edge (c4) edge (c55)
    (c4) edge (c5) edge (c51)
    (c5) edge (c6) edge (c34)
    (c6.south west) edge [out = 190, in = 15] (c7)
          edge [out = 192, in = 5] (c8)
    (c7) edge (l28) edge (l29)
    (c8) edge (c9) edge (c32)
    (c9) edge [bend right = 6] (c10) edge (c22)
    (c10) edge (l30) edge (c11)
    (c11) edge (c12) edge (l42)
    (c12) edge (c13) edge (c18)
    (c13) edge (c14) edge (c15)
    (c14) edge (l31) edge (l32)
    (c15) edge (l33) edge (c16)
    (c16) edge (c17) edge (l36)
    (c17) edge (l34) edge (l35)
    (c18) edge (c19) edge (l41)
    (c19) edge (l37) edge (c20)
    (c20) edge (l38) edge (c21)
    (c21) edge (l39) edge (l40)
    (c22) edge (l43) edge (c23)
    (c23) edge (c24) edge (c25)
    (c24) edge (l44) edge (l45)
    (c25) edge (c26) edge (c27)
    (c26) edge (l46) edge (l47)
    (c27) edge (c28) edge (l53)
    (c28) edge (l48) edge (c29)
    (c29) edge (l49) edge (c30)
    (c30) edge (c31) edge (l52)
    (c31) edge (l50) edge (l51)
    (c32) edge (l54) edge (c33)
    (c33) edge (l55) edge (l56)
    (c34) edge (c35) edge (l74)
    (c35) edge (c36) edge (c43)
    (c36) edge (c37) edge (c38)
    (c37) edge (l57) edge (l58)
    (c38) edge (c39) edge (c41)
    (c39) edge [bend right = 12] (c40) edge (l61)
    (c40) edge (l59) edge (l60)
    (c41) edge (c42) edge (l64)
    (c42) edge (l62) edge (l63)
    (c43) edge (c44) edge (c47)
    (c44) edge (c45) edge (c46)
    (c45) edge (l65) edge (l66)
    (c46) edge (l67) edge (l68)
    (c47) edge (c48) edge [bend left = 10] (l73)
    (c48) edge (l69) edge (c49)
    (c49) edge (l70) edge (c50)
    (c50) edge (l71) edge (l72)
    (c51) edge (c52) edge (l79)
    (c52) edge (c53) edge (l78)
    (c53) edge (c54) edge (l77)
    (c54) edge (l75) edge (l76)
    (c55) edge (l80) edge (l81)
    (d1) edge (d2) edge (d12)
    (d2) edge (d3) edge (d5)
    (d3) edge (d4) edge (l84)
    (d4) edge (l82) edge (l83)
    (d5) edge (d6) edge (d10)
    (d6) edge (d7) edge (d8)
    (d7) edge [bend right = 10] (l85) edge (l86)
    (d8) edge (d9) edge (l89)
    (d9) edge (l87) edge (l88)
    (d10) edge (d11) edge (l92)
    (d11) edge (l90) edge (l91)
    (d12) edge (d13) edge (d14)
    (d13) edge (l93) edge (l94)
    (d14) edge (d15) edge (d25)
    (d15) edge (d16) edge (d19)
    (d16) edge (d17) edge (d18)
    (d17) edge (l95) edge (l96)
    (d18) edge (l97) edge (l98)
    (d19) edge (d20) edge (d21)
    (d20) edge (l99) edge (l100)
    (d21) edge (l101) edge (d22)
    (d22) edge (d23) edge (l105)
    (d23) edge (l102) edge (d24)
    (d24) edge (l103) edge (l104)
    (d25) edge (l106) edge (l107)
    (e1) edge (e2) edge (e8)
    (e2) edge (e3) edge (e6)
    (e3) edge (e4) edge (l112)
    (e4) edge (e5) edge (l111)
    (e5) edge (l109) edge (l110)
    (e6) edge (e7) edge (l115)
    (e7) edge (l113) edge (l114)
    (e8) edge (e9) edge (l122)
    (e9) edge (e10) edge (l121)
    (e10) edge (e11) edge (e13)
    (e11) edge (e12) edge (l118)
    (e12) edge (l116) edge (l117)
    (e13) edge (l119) edge (l120)
    (f1) edge (f2) edge (g1)
    (f2) edge (f3) edge (f15)
    (f3) edge (f4) edge (f13)
    (f4) edge (f5) edge (f7)
    (f5) edge (f6) edge (l125)
    (f6) edge (l123) edge (l124)
    (f7) edge (f8) edge (f9)
    (f8) edge (l126) edge (l127)
    (f9) edge (f10) edge (f12)
    (f10) edge (l128) edge (f11)
    (f11) edge (l129) edge (l130)
    (f12) edge (l131) edge (l132)
    (f13) edge (l133) edge (f14)
    (f14) edge (l134) edge (l135)
    (f15) edge (f16) edge (f18)
    (f16) edge (l136) edge (f17)
    (f17) edge (l137) edge (l138)
    (f18) edge (f19) edge (l155)
    (f19) edge (f20) edge (l154)
    (f20) edge (f21) edge (f33)
    (f21) edge (f22) edge (f23)
    (f22) edge (l139) edge (l140)
    (f23) edge (f24) edge (f32)
    (f24) edge (f25) edge (f28)
    (f25) edge (f26) edge (l144)
    (f26) edge (l141) edge (f27)
    (f27) edge (l142) edge (l143)
    (f28) edge (f29) edge (f31)
    (f29) edge (f30) edge (l147)
    (f30) edge (l145) edge (l146)
    (f31) edge (l148) edge (l149)
    (f32) edge (l150) edge (l151)
    (f33) edge (l152) edge (l153)
    (g1) edge (g2) edge (g14)
    (g2) edge (g3) edge (g8)
    (g3) edge (l156) edge (g4)
    (g4) edge (g5) edge (l161)
    (g5) edge (g6) edge (l160)
    (g6) edge (g7) edge (l159)
    (g7) edge (l157) edge (l158)
    (g8) edge (g9) edge (l168)
    (g9) edge (g10) edge (l167)
    (g10) edge (g11) edge (g12)
    (g11) edge (l162) edge (l163)
    (g12) edge (g13) edge (l166)
    (g13) edge (l164) edge (l165)
    (g14) edge (g15) edge (l176)
    (g15) edge (g16) edge (g19)
    (g16) edge (l169) edge (g17)
    (g17) edge (l170) edge (g18)
    (g18) edge (l171) edge (l172)
    (g19) edge (l173) edge (g20)
    (g20) edge (l174) edge (l175);
\end{tikzpicture}
\end{document}
